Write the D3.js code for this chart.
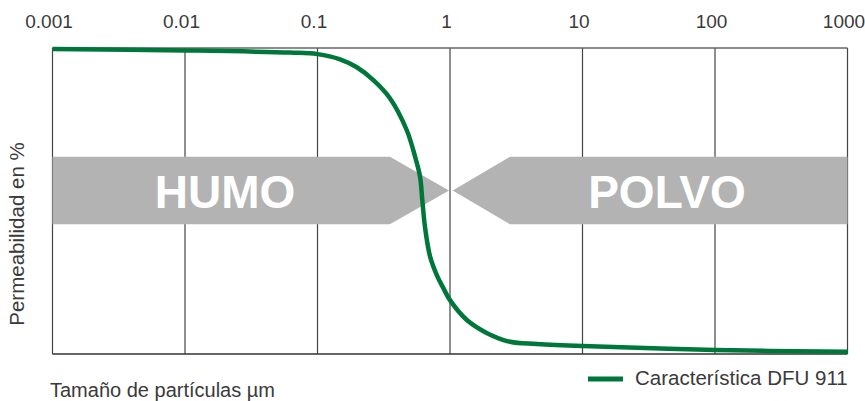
<!DOCTYPE html>
<html>
<head>
<meta charset="utf-8">
<script src="https://cdn.jsdelivr.net/npm/d3@7"></script>
<style>
	body { margin: 0; background: #fff; }
	text { font-family: "Liberation Sans", Arial, sans-serif; }
</style>
</head>
<body>
<div id="viz"></div>
<script>
// decade ticks along the top
const tickValues = [0.001, 0.01, 0.1, 1, 10, 100, 1000];
const tickLabels = ["0.001", "0.01", "0.1", "1", "10", "100", "1000"];

// DFU 911 characteristic: particle size (µm) vs permeability (%)
const sizes = [0.001, 0.01, 0.062, 0.1, 0.148, 0.198, 0.264, 0.352, 0.471, 0.545, 0.594, 0.618, 0.647, 0.706, 0.795, 0.889, 1.0, 1.34, 1.89, 2.84, 4.51, 10, 100, 1000];
const permeability = [99.7, 99.2, 98.5, 98.0, 96.3, 93.7, 89.5, 83.6, 73.2, 64.5, 58.0, 50.3, 41.6, 32.0, 25.8, 21.6, 17.6, 11.1, 6.9, 4.0, 3.3, 2.6, 1.3, 0.7];

// smoke / dust zones (arrow outlines in data units)
const humoArrow = [[0.001, 64.5], [0.352, 64.5], [0.983, 53.4], [0.352, 42.4], [0.001, 42.4]];
const polvoArrow = [[1000, 64.5], [2.84, 64.5], [1.048, 53.4], [2.84, 42.4], [1000, 42.4]];

var margin = { top: 48, right: 17.5, bottom: 47, left: 52.5 },
	width = 865 - margin.left - margin.right,
	height = 401 - margin.top - margin.bottom;

var svg = d3
	.select("#viz")
	.append("svg")
	.attr("width", 865)
	.attr("height", 401);

var g = svg
	.append("g")
	.attr("transform", "translate(" + margin.left + "," + margin.top + ")");

const x = d3.scaleLog().domain([0.001, 1000]).range([0, width]);
const y = d3.scaleLinear().domain([0, 100]).range([height, 0]);

// vertical grid lines
g.append("g")
	.selectAll("line")
	.data(tickValues)
	.join("line")
	.attr("x1", (d) => x(d))
	.attr("x2", (d) => x(d))
	.attr("y1", 0)
	.attr("y2", height)
	.attr("stroke", "#444")
	.attr("stroke-width", 1.2);

// frame
g.append("line").attr("x1", 0).attr("x2", width).attr("y1", 0).attr("y2", 0)
	.attr("stroke", "#666").attr("stroke-width", 1.5);
g.append("line").attr("x1", 0).attr("x2", width).attr("y1", height).attr("y2", height)
	.attr("stroke", "#333").attr("stroke-width", 1.5);

// top axis labels
g.append("g")
	.call(
		d3.axisTop(x)
			.tickValues(tickValues)
			.tickFormat((d, i) => tickLabels[i])
			.tickSize(0)
			.tickPadding(20)
	)
	.call((a) => a.select(".domain").remove())
	.selectAll("text")
	.attr("dx", -4)
	.attr("fill", "#3a3a3a")
	.attr("font-size", 19)
	.style("font-family", "'Liberation Sans', Arial, sans-serif");

// arrows
const area = d3.line().x((d) => x(d[0])).y((d) => y(d[1]));
g.append("path").attr("d", area(humoArrow) + "Z").attr("fill", "#b3b3b3");
g.append("path").attr("d", area(polvoArrow) + "Z").attr("fill", "#b3b3b3");

g.append("text")
	.attr("x", 225 - margin.left)
	.attr("y", 208 - margin.top)
	.attr("text-anchor", "middle")
	.attr("fill", "#fff")
	.attr("font-weight", "bold")
	.attr("font-size", 46)
	.text("HUMO");

g.append("text")
	.attr("x", 667 - margin.left)
	.attr("y", 208 - margin.top)
	.attr("text-anchor", "middle")
	.attr("fill", "#fff")
	.attr("font-weight", "bold")
	.attr("font-size", 46)
	.text("POLVO");

// curve
const line = d3
	.line()
	.x((d) => x(d[0]))
	.y((d) => y(d[1]))
	.curve(d3.curveCatmullRom.alpha(0.5));

g.append("path")
	.datum(sizes.map((s, i) => [s, permeability[i]]))
	.attr("d", line)
	.attr("fill", "none")
	.attr("stroke", "#00773a")
	.attr("stroke-width", 4.5);

// axis titles
svg.append("text")
	.attr("transform", "translate(24,234) rotate(-90)")
	.attr("text-anchor", "middle")
	.attr("fill", "#3a3a3a")
	.attr("font-size", 20.5)
	.text("Permeabilidad en %");

svg.append("text")
	.attr("x", 50)
	.attr("y", 397)
	.attr("fill", "#3a3a3a")
	.attr("font-size", 20)
	.text("Tamaño de partículas µm");

// legend
svg.append("line")
	.attr("x1", 588)
	.attr("x2", 623)
	.attr("y1", 379)
	.attr("y2", 379)
	.attr("stroke", "#00773a")
	.attr("stroke-width", 5);

svg.append("text")
	.attr("x", 635)
	.attr("y", 385)
	.attr("fill", "#3a3a3a")
	.attr("font-size", 20.5)
	.text("Característica DFU 911");
</script>
</body>
</html>
